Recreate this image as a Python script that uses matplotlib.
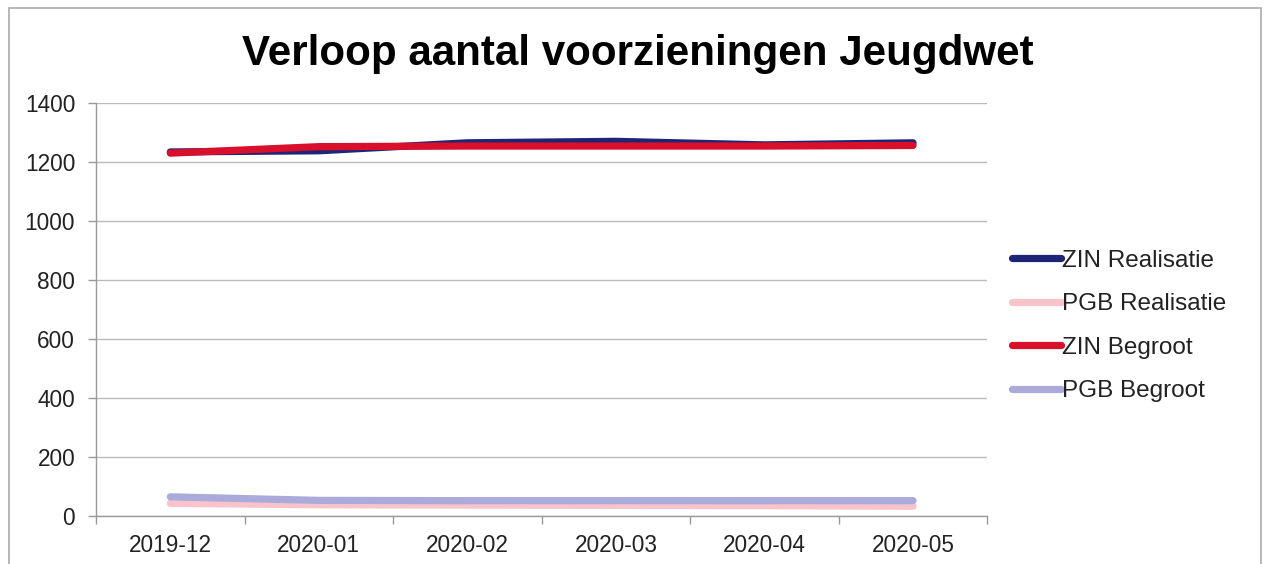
import matplotlib
matplotlib.use("Agg")
import matplotlib.pyplot as plt
from matplotlib.patches import Rectangle
import numpy as np

plt.rcParams['font.family'] = ['Liberation Sans', 'DejaVu Sans']

categories = ["2019-12", "2020-01", "2020-02", "2020-03", "2020-04", "2020-05"]
zin_realisatie = [1234, 1238, 1265, 1270, 1258, 1265]
pgb_realisatie = [43, 38, 37, 36, 35, 33]
zin_begroot = [1230, 1252, 1254, 1254, 1254, 1256]
pgb_begroot = [65, 53, 52, 52, 52, 52]
yticks = [0, 200, 400, 600, 800, 1000, 1200, 1400]

fig = plt.figure(figsize=(12.69, 5.64), dpi=100)
ax = fig.add_axes([0.0757, 0.0851, 0.7023, 0.7323])

x = np.arange(len(categories))
lw = 5.2
ax.plot(x, zin_realisatie, color='#1e2577', lw=lw, solid_capstyle='round', label='ZIN Realisatie', zorder=3)
ax.plot(x, pgb_realisatie, color='#f9c3cb', lw=lw, solid_capstyle='round', label='PGB Realisatie', zorder=3)
ax.plot(x, zin_begroot, color='#d8102c', lw=lw, solid_capstyle='round', label='ZIN Begroot', zorder=4)
ax.plot(x, pgb_begroot, color='#aaaadb', lw=lw, solid_capstyle='round', label='PGB Begroot', zorder=4)

ax.set_xlim(-0.5, len(categories) - 0.5)
ax.set_ylim(0, 1400)
ax.set_yticks(yticks)
ax.set_xticks(x)
ax.set_xticklabels(categories)
ax.set_xticks(np.arange(-0.5, len(categories)), minor=True)
ax.tick_params(axis='x', which='major', length=0, pad=13, labelsize=16.3, colors='#222222')
ax.tick_params(axis='x', which='minor', length=5.5, color='#999999', width=1)
ax.tick_params(axis='y', length=6, color='#999999', width=1, labelsize=16.3, labelcolor='#222222', pad=9)
ax.grid(axis='y', color='#bbbbbb', lw=1)
ax.set_axisbelow(True)
for s in ['top', 'right']:
    ax.spines[s].set_visible(False)
for s in ['left', 'bottom']:
    ax.spines[s].set_color('#999999')
    ax.spines[s].set_linewidth(1)

fig.text(0.503, 1 - 65 / 564, "Verloop aantal voorzieningen Jeugdwet", ha='center', va='baseline',
         fontsize=30.3, fontweight='bold', color='#000000')

leg = fig.legend(loc='center left', bbox_to_anchor=(1012 / 1269, 1 - 326 / 564), frameon=False,
                 fontsize=17.5, handlelength=2.0, handletextpad=0.05, labelspacing=0.88,
                 borderpad=0, borderaxespad=0)
for t in leg.get_texts():
    t.set_color('#222222')

fig.patches.append(Rectangle((0.007, -0.01), 0.987, 0.995, transform=fig.transFigure,
                             fill=False, edgecolor='#aaaaaa', lw=1.2))

fig.savefig("out.png", dpi=100, facecolor='white')
